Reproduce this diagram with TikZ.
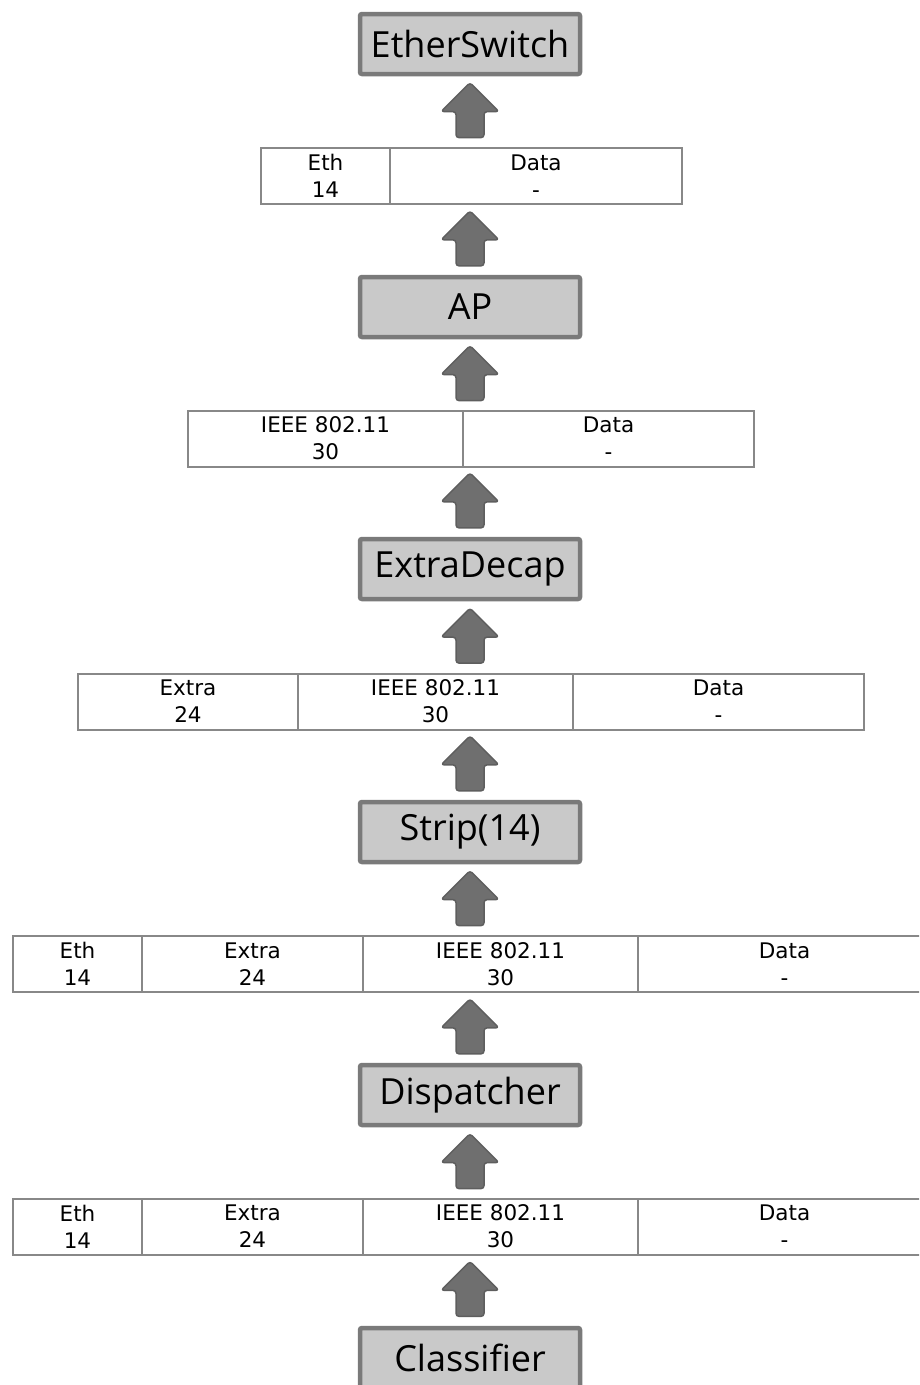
\documentclass[tikz,border=0pt]{standalone}
\usepackage{fontspec}
\setmainfont{DejaVu Sans}
\newfontfamily\bigfont{Open Sans}
\usetikzlibrary{calc}
\definecolor{boxfill}{HTML}{C9C9C9}
\definecolor{boxline}{HTML}{7A7A7A}
\definecolor{arrfill}{HTML}{6F6F6F}
\definecolor{arrline}{HTML}{5E5E5E}
\definecolor{cellline}{HTML}{888888}
\tikzset{
  element/.style={draw=boxline, line width=4.5pt, fill=boxfill, rounded corners=2pt,
    minimum width=220pt, minimum height=60pt, inner sep=0pt,
    font=\bigfont\fontsize{36}{42}\selectfont},
  cell/.style={draw=cellline, line width=2pt, fill=white, anchor=west, inner sep=0pt,
    minimum height=56pt, align=center, font=\fontsize{21.5}{27}\selectfont},
  barrow/.style={draw=arrline, fill=arrfill, line width=1.5pt, rounded corners=3pt, line join=round}
}
\newcommand{\blockarrow}[2]{%
  \draw[barrow, shift={($(#1)!0.5!(#2)$)}]
    (0,-29) -- (29,0) -- (14,0) -- (14,26) -- (-14,26) -- (-14,0) -- (-29,0) -- cycle;}
\newcommand{\cellat}[5]{% name, x1, x2, ycenter, text
  \node[cell, minimum width={#3-#2}] (#1) at (#2,#4) {#5};}
\begin{document}
\begin{tikzpicture}[x=1pt,y=-1pt]
\useasboundingbox (0,0) rectangle (919,1385);
\clip (0,0) rectangle (919,1385);
\fill[white] (0,0) rectangle (919,1385);
% elements
\node[element] (es) at (470,44) {EtherSwitch};
\node[element] (ap) at (470,307) {AP};
\node[element] (ed) at (470,569) {ExtraDecap};
\node[element] (st) at (470,832) {Strip(14)};
\node[element] (di) at (470,1095) {Dispatcher};
\node[element] (cl) at (470,1358) {Classifier};
% row 1
\cellat{r1a}{260}{389}{176}{Eth\\14}
\cellat{r1b}{389}{681}{176}{Data\\-}
\coordinate (r1t) at (470,147); \coordinate (r1b) at (470,205);
% row 2
\cellat{r2a}{187}{462}{438.5}{IEEE 802.11\\30}
\cellat{r2b}{462}{753}{438.5}{Data\\-}
\coordinate (r2t) at (470,410); \coordinate (r2b) at (470,467);
% row 3
\cellat{r3a}{77}{297}{701.5}{Extra\\24}
\cellat{r3b}{297}{572}{701.5}{IEEE 802.11\\30}
\cellat{r3c}{572}{863}{701.5}{Data\\-}
\coordinate (r3t) at (470,673); \coordinate (r3b) at (470,730);
% row 4
\cellat{r4a}{12}{141}{964}{Eth\\14}
\cellat{r4b}{141}{362}{964}{Extra\\24}
\cellat{r4c}{362}{637}{964}{IEEE 802.11\\30}
\cellat{r4d}{637}{930}{964}{Data\\-}
\coordinate (r4t) at (470,935); \coordinate (r4b) at (470,993);
% row 5
\cellat{r5a}{12}{141}{1226.5}{Eth\\14}
\cellat{r5b}{141}{362}{1226.5}{Extra\\24}
\cellat{r5c}{362}{637}{1226.5}{IEEE 802.11\\30}
\cellat{r5d}{637}{930}{1226.5}{Data\\-}
\coordinate (r5t) at (470,1198); \coordinate (r5b) at (470,1255);
% arrows (upward)
\blockarrow{cl.north}{r5b}
\blockarrow{r5t}{di.south}
\blockarrow{di.north}{r4b}
\blockarrow{r4t}{st.south}
\blockarrow{st.north}{r3b}
\blockarrow{r3t}{ed.south}
\blockarrow{ed.north}{r2b}
\blockarrow{r2t}{ap.south}
\blockarrow{ap.north}{r1b}
\blockarrow{r1t}{es.south}
\end{tikzpicture}
\end{document}
